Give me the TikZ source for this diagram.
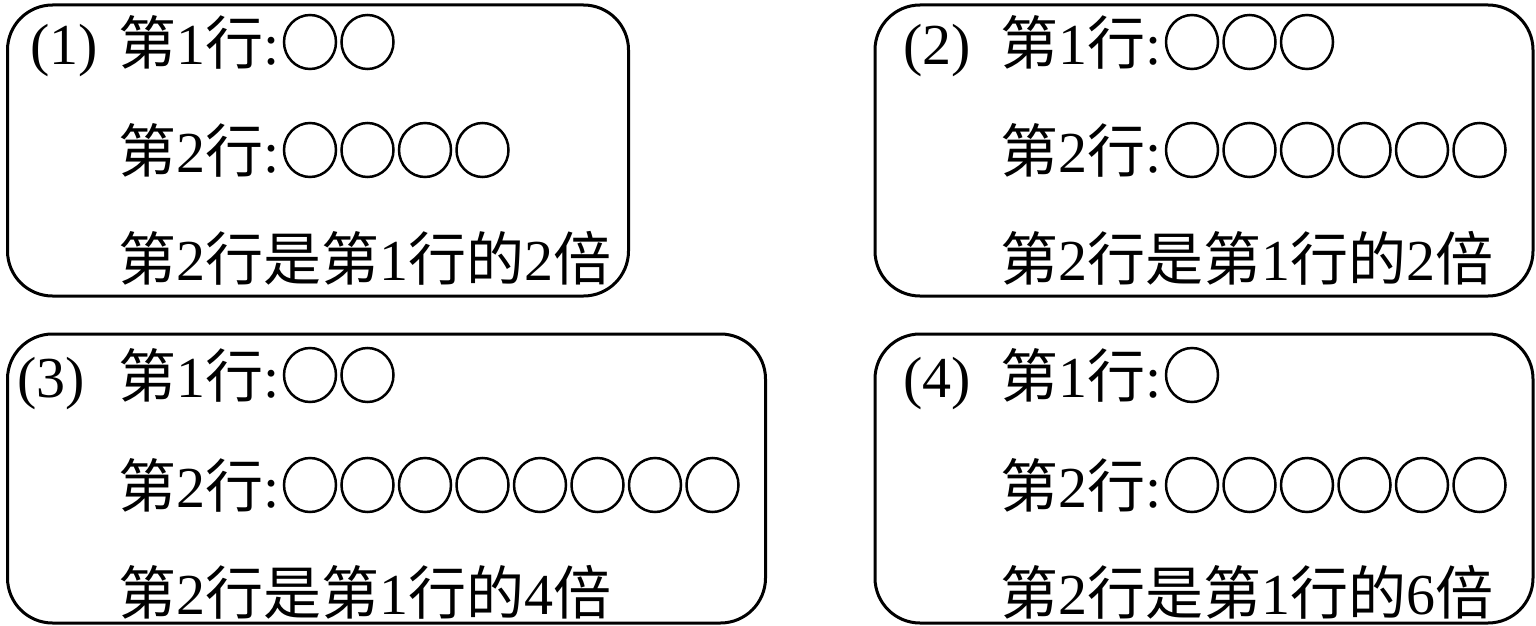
\documentclass[tikz,border=0pt]{standalone}
\usepackage{fontspec}
\usetikzlibrary{shapes.geometric}
\setmainfont{Liberation Serif}
\newfontfamily\cjk{Noto Sans CJK SC}
\newcommand\zh[1]{{\cjk #1}}
\begin{document}
\begin{tikzpicture}[x=1pt,y=-1pt,
  box/.style={draw, line width=3pt, rounded corners=45pt, anchor=north west, inner sep=0pt},
  ring/.style={draw, ellipse, line width=2.5pt, minimum width=52pt, minimum height=54pt, inner sep=0pt},
  txt/.style={anchor=base west, inner sep=0pt, font=\fontsize{58}{58}\selectfont}]
\useasboundingbox (0,0) rectangle (1536,626);
% boxes
\node[box, minimum width=621pt, minimum height=291pt] (b1) at (6,3.5) {};
\node[box, minimum width=658pt, minimum height=291pt] (b2) at (873.5,3.5) {};
\node[box, minimum width=758pt, minimum height=289pt] (b3) at (6,332.5) {};
\node[box, minimum width=658pt, minimum height=289pt] (b4) at (873.5,332.5) {};
% box 1
\node[txt] (l1) at (30,64) {(1)};
\node[txt] (t11) at (118,64) {\zh{第}1\zh{行}:};
\node[txt] (t12) at (118,172) {\zh{第}2\zh{行}:};
\node[txt] (t13) at (118,280) {\zh{第}2\zh{行是第}1\zh{行的}2\zh{倍}};
\foreach \i in {1,...,2} \node[ring] (a1c\i) at ({310+57.5*(\i-1)},42) {};
\foreach \i in {1,...,4} \node[ring] (a2c\i) at ({310+57.5*(\i-1)},150) {};
% box 2
\node[txt] (l2) at (903,64) {(2)};
\node[txt] (t21) at (1000,64) {\zh{第}1\zh{行}:};
\node[txt] (t22) at (1000,172) {\zh{第}2\zh{行}:};
\node[txt] (t23) at (1000,280) {\zh{第}2\zh{行是第}1\zh{行的}2\zh{倍}};
\foreach \i in {1,...,3} \node[ring] (b1c\i) at ({1192+57.5*(\i-1)},42) {};
\foreach \i in {1,...,6} \node[ring] (b2c\i) at ({1192+57.5*(\i-1)},150) {};
% box 3
\node[txt] (l3) at (17,397) {(3)};
\node[txt] (t31) at (118,397) {\zh{第}1\zh{行}:};
\node[txt] (t32) at (118,507) {\zh{第}2\zh{行}:};
\node[txt] (t33) at (118,614) {\zh{第}2\zh{行是第}1\zh{行的}4\zh{倍}};
\foreach \i in {1,...,2} \node[ring] (c1c\i) at ({310+57.5*(\i-1)},375) {};
\foreach \i in {1,...,8} \node[ring] (c2c\i) at ({310+57.5*(\i-1)},485) {};
% box 4
\node[txt] (l4) at (903,397) {(4)};
\node[txt] (t41) at (1000,397) {\zh{第}1\zh{行}:};
\node[txt] (t42) at (1000,507) {\zh{第}2\zh{行}:};
\node[txt] (t43) at (1000,614) {\zh{第}2\zh{行是第}1\zh{行的}6\zh{倍}};
\foreach \i in {1} \node[ring] (d1c\i) at ({1192+57.5*(\i-1)},375) {};
\foreach \i in {1,...,6} \node[ring] (d2c\i) at ({1192+57.5*(\i-1)},485) {};
\end{tikzpicture}
\end{document}
